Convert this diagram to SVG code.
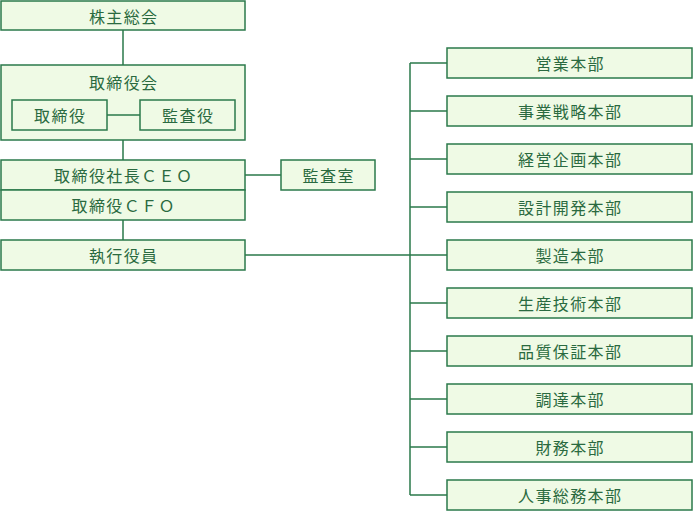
<svg xmlns="http://www.w3.org/2000/svg" width="695" height="513" viewBox="0 0 695 513">
<style>
.b{fill:#effae5;stroke:#2b7a4b;stroke-width:1.5}
.l{stroke:#2b7a4b;stroke-width:1.5;fill:none}
text{font-family:"Noto Sans CJK JP","Noto Sans CJK SC",sans-serif;font-size:16px;letter-spacing:1.4px;fill:#2a6a40;text-anchor:middle;dominant-baseline:central}
</style>
<rect width="695" height="513" fill="#fff"/>
<g id="kabunushi"><rect class="b" x="1" y="1" width="244" height="29"/><text x="123.7" y="15.5">株主総会</text></g>
<g id="torishimariyakukai"><rect class="b" x="1" y="65" width="244" height="75"/><text x="123.7" y="82">取締役会</text></g>
<g id="torishimariyaku"><rect class="b" x="12" y="100" width="95" height="30"/><text x="60.2" y="115">取締役</text></g>
<g id="kansayaku"><rect class="b" x="140" y="100" width="95" height="30"/><text x="188.2" y="115">監査役</text></g>
<g id="ceo"><rect class="b" x="1" y="160" width="244" height="30"/><text x="123.7" y="175">取締役社長ＣＥＯ</text></g>
<g id="cfo"><rect class="b" x="1" y="190" width="244" height="30"/><text x="123.7" y="205">取締役ＣＦＯ</text></g>
<g id="shikko"><rect class="b" x="1" y="240" width="244" height="30"/><text x="123.7" y="255">執行役員</text></g>
<g id="kansashitsu"><rect class="b" x="281" y="160" width="94" height="30"/><text x="328.7" y="175">監査室</text></g>
<g id="d1"><rect class="b" x="447" y="48" width="245" height="30"/><text x="570.2" y="63">営業本部</text></g>
<g id="d2"><rect class="b" x="447" y="96" width="245" height="30"/><text x="570.2" y="111">事業戦略本部</text></g>
<g id="d3"><rect class="b" x="447" y="144" width="245" height="30"/><text x="570.2" y="159">経営企画本部</text></g>
<g id="d4"><rect class="b" x="447" y="192" width="245" height="30"/><text x="570.2" y="207">設計開発本部</text></g>
<g id="d5"><rect class="b" x="447" y="240" width="245" height="30"/><text x="570.2" y="255">製造本部</text></g>
<g id="d6"><rect class="b" x="447" y="288" width="245" height="30"/><text x="570.2" y="303">生産技術本部</text></g>
<g id="d7"><rect class="b" x="447" y="336" width="245" height="30"/><text x="570.2" y="351">品質保証本部</text></g>
<g id="d8"><rect class="b" x="447" y="384" width="245" height="30"/><text x="570.2" y="399">調達本部</text></g>
<g id="d9"><rect class="b" x="447" y="432" width="245" height="30"/><text x="570.2" y="447">財務本部</text></g>
<g id="d10"><rect class="b" x="447" y="480" width="245" height="30"/><text x="570.2" y="495">人事総務本部</text></g>
<g id="connectors">
<path class="l" d="M123 30V65M123 140V160M123 220V240M107 115H140M245 175H281M245 255H410M410 63V495"/>
<path class="l" d="M410 63H447M410 111H447M410 159H447M410 207H447M410 255H447M410 303H447M410 351H447M410 399H447M410 447H447M410 495H447"/>
</g>
</svg>
